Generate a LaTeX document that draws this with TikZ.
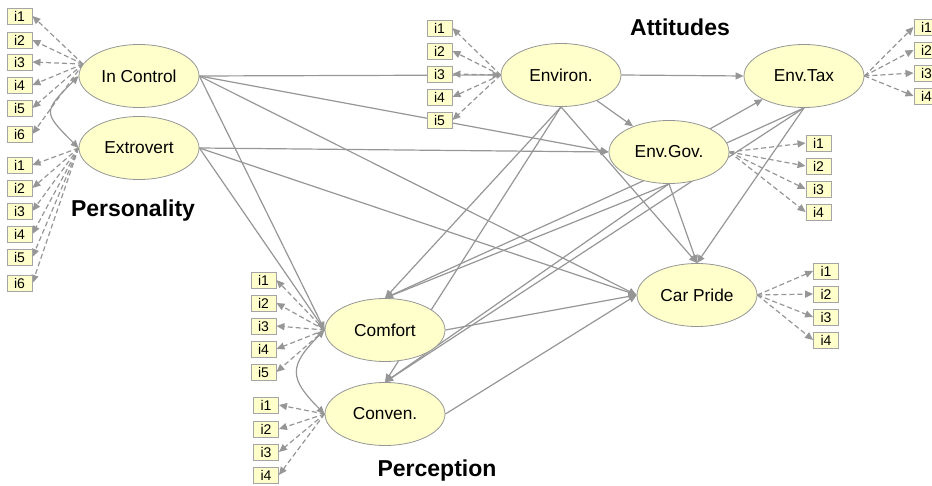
\documentclass[tikz,border=0pt]{standalone}
\usepackage{fontspec}
\setmainfont{Liberation Sans}
\usetikzlibrary{shapes.geometric,arrows.meta}
\pgfdeclarelayer{bg}
\pgfsetlayers{bg,main}
\definecolor{lineg}{RGB}{150,150,150}
\definecolor{edgeg}{RGB}{165,165,165}
\definecolor{paley}{RGB}{255,255,204}

\begin{document}
\begin{tikzpicture}[x=1pt,y=-1pt,
  latent/.style={ellipse,draw=lineg,line width=0.8pt,fill=paley,
    minimum width=120pt,minimum height=63pt,inner sep=0pt,
    font=\fontsize{17.3}{20}\selectfont},
  item/.style={rectangle,draw=edgeg,line width=0.9pt,fill=paley,
    minimum width=25pt,minimum height=16pt,inner sep=0pt,
    font=\fontsize{14}{16}\selectfont},
  tip/.tip={Triangle[length=8pt,width=7pt]},
  effect/.style={draw=lineg,line width=1.2pt,-tip},
  loading/.style={draw=lineg,line width=1.2pt,dash pattern=on 5pt off 3pt,-tip},
  covar/.style={draw=lineg,line width=1.2pt,tip-tip},
  heading/.style={font=\bfseries\fontsize{23}{26}\selectfont}
]
\useasboundingbox (0,0) rectangle (932,486);
\clip (0,0) rectangle (932,486);

% latent variables
\node[latent] (ic)  at (139,76)  {In Control};
\node[latent] (ex)  at (139,148) {Extrovert};
\node[latent] (env) at (561,75)  {Environ.};
\node[latent] (tax) at (804,76)  {Env.Tax};
\node[latent] (gov) at (669,152) {Env.Gov.};
\node[latent] (car) at (697,295) {Car Pride};
\node[latent] (com) at (385,330) {Comfort};
\node[latent] (con) at (385,414) {Conven.};

% indicators
\foreach \k/\y in {1/16,2/40,3/62,4/85,5/108,6/134}
  \node[item] (ic\k) at (19.5,\y) {i\k};
\foreach \k/\y in {1/165,2/188,3/211,4/234,5/257,6/283}
  \node[item] (ex\k) at (19.5,\y) {i\k};
\foreach \k/\y in {1/28,2/51,3/74,4/97,5/120}
  \node[item] (env\k) at (439.5,\y) {i\k};
\foreach \k/\y in {1/27,2/50,3/73,4/96}
  \node[item] (tax\k) at (926.5,\y) {i\k};
\foreach \k/\y in {1/143,2/166,3/189,4/212}
  \node[item] (gov\k) at (818.5,\y) {i\k};
\foreach \k/\y in {1/271,2/294,3/317,4/340}
  \node[item] (car\k) at (826,\y) {i\k};
\foreach \k/\y in {1/280,2/303,3/326,4/349,5/372}
  \node[item] (com\k) at (263.5,\y) {i\k};
\foreach \k/\y in {1/405,2/429,3/452,4/475}
  \node[item] (con\k) at (266,\y) {i\k};

% group headings
\node[heading] (hpers) at (133,211) {Personality};
\node[heading] (hatt)  at (680,27)  {Attitudes};
\node[heading] (hperc) at (437,471) {Perception};

\begin{pgfonlayer}{bg}
  % measurement loadings
  \foreach \k in {1,...,6} \draw[loading] (ic.168) -- (ic\k.east);
  \foreach \k in {1,...,6} \draw[loading] (ex.west) -- (ex\k.east);
  \foreach \k in {1,...,5} \draw[loading] (env.west) -- (env\k.east);
  \foreach \k in {1,...,4} \draw[loading] (tax.east) -- (tax\k.west);
  \foreach \k in {1,...,4} \draw[loading] (gov.east) -- (gov\k.west);
  \foreach \k in {1,...,4} \draw[loading] (car.east) -- (car\k.west);
  \foreach \k in {1,...,5} \draw[loading] (com.west) -- (com\k.east);
  \foreach \k in {1,...,4} \draw[loading] (con.west) -- (con\k.east);

  % covariances
  \draw[covar] (ic.west) to[out=225,in=135,looseness=1.8] (ex.west);
  \draw[covar] (com.west) to[out=225,in=135,looseness=1.55] (con.west);

  % structural paths
  \draw[effect] (ic.east) -- (env.west);
  \draw[effect] (ic.east) -- (gov.west);
  \draw[effect] (ic.east) -- (car.west);
  \draw[effect] (ic.east) -- (com.west);
  \draw[effect] (ex.east) -- (gov.west);
  \draw[effect] (ex.east) -- (car.west);
  \draw[effect] (ex.east) -- (com.west);
  \draw[effect] (env.east) -- (tax.west);
  \draw[effect] (env) -- (gov);
  \draw[effect] (gov) -- (tax);
  \foreach \s in {env,gov,tax} {
    \draw[effect] (\s.south) -- (com.north);
    \draw[effect] (\s.south) -- (con.north);
    \draw[effect] (\s.south) -- (car.north);
  }
  \draw[effect] (com.east) -- (car.west);
  \draw[effect] (con.east) -- (car.west);
\end{pgfonlayer}
\end{tikzpicture}
\end{document}
